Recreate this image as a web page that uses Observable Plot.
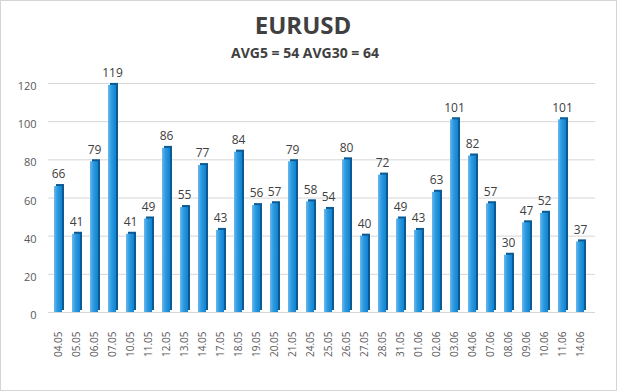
<!DOCTYPE html>
<html><head><meta charset="utf-8">
<script src="https://cdn.jsdelivr.net/npm/d3@7"></script>
<script src="https://cdn.jsdelivr.net/npm/@observablehq/plot@0.6"></script>
<style>
body{margin:0;background:#fff;}
#frame{position:relative;width:615px;height:389px;border:1px solid #d4d4d4;background:#fff;font-family:"Open Sans",sans-serif;overflow:hidden}
#title{position:absolute;left:0;width:604px;top:12px;text-align:center;font-size:24px;line-height:24px;font-weight:700;color:#404040}
#subtitle{position:absolute;left:0;width:608px;top:45px;text-align:center;font-size:14px;line-height:14px;font-weight:700;color:#404040}
#chart{position:absolute;left:0;top:55px}
</style></head>
<body>
<div id="frame">
  <div id="title">EURUSD</div>
  <div id="subtitle">AVG5 = 54 AVG30 = 64</div>
  <div id="chart"></div>
</div>
<script>
const dates = ["04.05","05.05","06.05","07.05","10.05","11.05","12.05","13.05","14.05","17.05","18.05","19.05","20.05","21.05","24.05","25.05","26.05","27.05","28.05","31.05","01.06","02.06","03.06","04.06","07.06","08.06","09.06","10.06","11.06","14.06"];
const values = [66,41,79,119,41,49,86,55,77,43,84,56,57,79,58,54,80,40,72,49,43,63,101,82,57,30,47,52,101,37];
const yTicks = [0,20,40,60,80,100,120];

const data = dates.map((d, i) => ({date: d, value: values[i]}));

const plot = Plot.plot({
  width: 615,
  height: 314,
  marginLeft: 47,
  marginRight: 21,
  marginTop: 27,
  marginBottom: 58,
  style: {fontFamily: "'Open Sans', sans-serif", background: "transparent"},
  x: {domain: dates, range: [52, 584], paddingInner: 0.56, paddingOuter: 0},
  y: {domain: [0, 120]},
  marks: [
    Plot.ruleY(yTicks, {stroke: "#d6d6d6", strokeWidth: 1}),
    Plot.axisY({ticks: yTicks, tickSize: 0, tickPadding: 12, dy: 3, fontSize: 11, color: "#595959", label: null}),
    Plot.axisX({tickSize: 0, tickPadding: 19, tickRotate: -90, fontSize: 10, color: "#595959", label: null}),
    Plot.barY(data, {x: "date", y: "value", fill: "#0b5a94", dx: 2, dy: -2}),
    Plot.barY(data, {x: "date", y: "value", fill: "url(#barGrad)"}),
    Plot.text(data, {x: "date", y: "value", text: d => String(d.value), dy: -12, fontSize: 12, fill: "#404040"})
  ]
});

const defs = d3.select(plot).insert("defs", ":first-child");
const g = defs.append("linearGradient").attr("id", "barGrad").attr("x1", "0").attr("x2", "1").attr("y1", "0").attr("y2", "0");
g.append("stop").attr("offset", "0").attr("stop-color", "#6cbaee");
g.append("stop").attr("offset", "0.4").attr("stop-color", "#2e9ce2");
g.append("stop").attr("offset", "1").attr("stop-color", "#1283cf");

document.getElementById("chart").appendChild(plot);
</script>
</body></html>
